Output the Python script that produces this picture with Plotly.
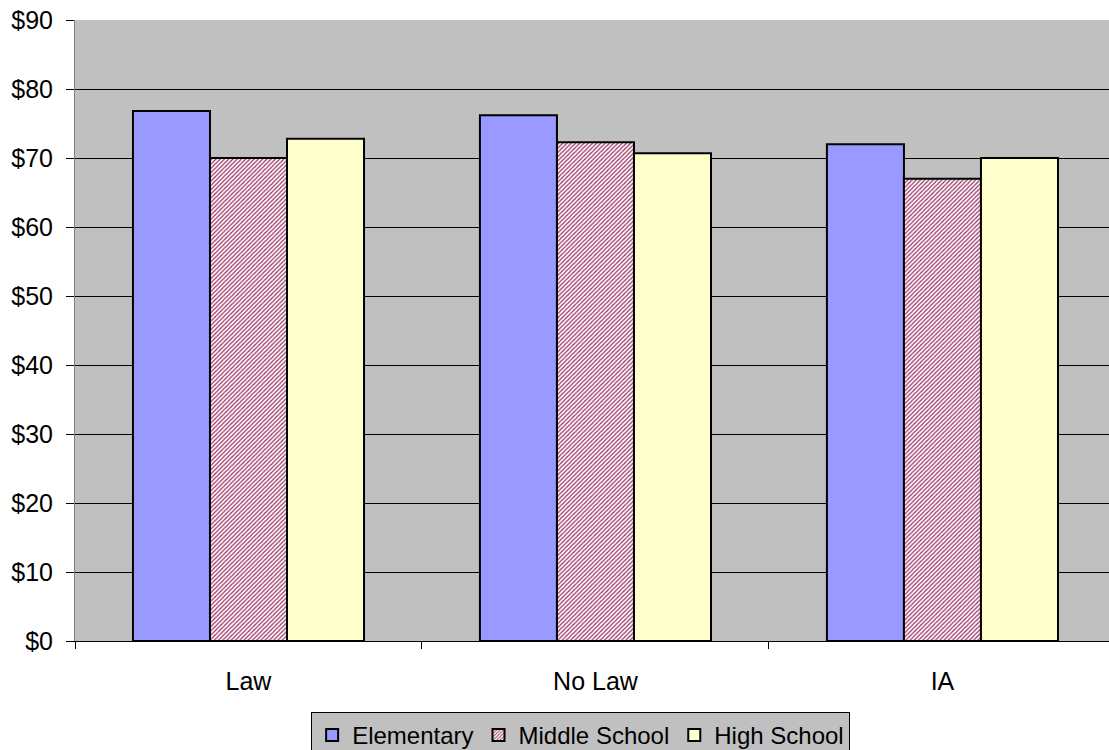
import plotly.graph_objects as go

# Average cost by district type and school level
categories = ["Law", "No Law", "IA"]
elementary = [76.8, 76.2, 72.0]
middle_school = [70.0, 72.3, 67.0]
high_school = [72.8, 70.7, 70.0]
y_ticks = [0, 10, 20, 30, 40, 50, 60, 70, 80, 90]
y_tick_labels = ["$" + str(v) for v in y_ticks]

outline = dict(color="black", width=2)

fig = go.Figure()
fig.add_trace(go.Bar(name="Elementary", x=categories, y=elementary,
                     marker=dict(color="#9999FF", line=outline)))
fig.add_trace(go.Bar(name="Middle School", x=categories, y=middle_school,
                     marker=dict(color="#FFFFFF", line=outline,
                                 pattern=dict(shape="/", fgcolor="#993366",
                                              bgcolor="#FFFFFF", size=3,
                                              solidity=0.42, fgopacity=1))))
fig.add_trace(go.Bar(name="High School", x=categories, y=high_school,
                     marker=dict(color="#FFFFCC", line=outline)))

fig.update_layout(
    width=1109, height=750,
    margin=dict(l=75, r=0, t=20, b=109, autoexpand=False),
    paper_bgcolor="white",
    plot_bgcolor="#C0C0C0",
    barmode="group",
    bargap=0.334,
    bargroupgap=0,
    font=dict(family="Arial, Liberation Sans, sans-serif", size=25, color="black"),
    showlegend=True,
    legend=dict(orientation="h", x=0.489, xanchor="center", y=-0.114, yanchor="top",
                bgcolor="#C0C0C0", bordercolor="black", borderwidth=1,
                font=dict(size=24), itemsizing="constant",
                traceorder="normal", itemwidth=30),
)
fig.update_xaxes(
    range=[-0.5, 2.48],
    showgrid=False,
    showline=True, linecolor="black", linewidth=1,
    ticks="outside", ticklen=7, tickcolor="black",
    tickson="boundaries",
    tickfont=dict(size=25),
    ticklabelstandoff=18,
)
fig.update_yaxes(
    range=[0, 90],
    tickvals=y_ticks, ticktext=y_tick_labels,
    showgrid=True, gridcolor="black", gridwidth=1,
    showline=True, linecolor="#808080", linewidth=1,
    ticks="outside", ticklen=8, tickcolor="black",
    tickfont=dict(size=25),
    ticklabelstandoff=8,
    zeroline=False,
)

fig.write_html("out.html")
